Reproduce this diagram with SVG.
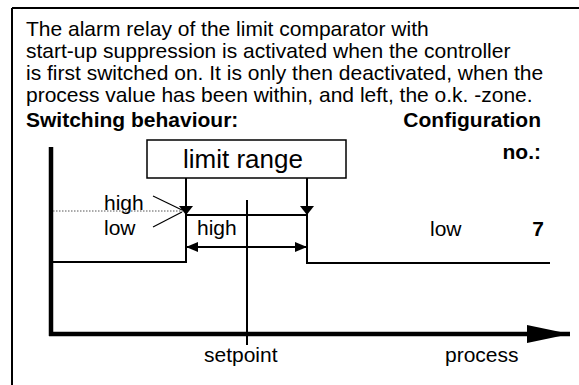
<svg xmlns="http://www.w3.org/2000/svg" width="579" height="385" viewBox="0 0 579 385">
<style>
text{font-family:"Liberation Sans",Arial,sans-serif;font-size:21px;fill:#000}
.b{font-weight:bold}
.thin{stroke:#000;stroke-width:2;fill:none}
.thick{stroke:#000;stroke-width:4.5;fill:none}
</style>
<defs>
<marker id="ah" viewBox="0 0 9 14" refX="9" refY="7" markerWidth="9" markerHeight="14" markerUnits="userSpaceOnUse" orient="auto">
<path d="M0,0 L9,7 L0,14 Z" fill="#000"/>
</marker>
<marker id="ahs" viewBox="0 0 12 10" refX="12" refY="5" markerWidth="12" markerHeight="10" markerUnits="userSpaceOnUse" orient="auto">
<path d="M0,0 L12,5 L0,10 Z" fill="#000"/>
</marker>
<marker id="ahs0" viewBox="0 0 12 10" refX="0" refY="5" markerWidth="12" markerHeight="10" markerUnits="userSpaceOnUse" orient="auto">
<path d="M12,0 L0,5 L12,10 Z" fill="#000"/>
</marker>
<marker id="big" viewBox="0 0 43 18" refX="43" refY="9" markerWidth="43" markerHeight="18" markerUnits="userSpaceOnUse" orient="auto">
<path d="M0,0 L43,9 L0,18 Z" fill="#000"/>
</marker>
</defs>
<g id="frame">
<line x1="12" y1="8" x2="579" y2="8" class="thin"/>
<line x1="12" y1="8" x2="12" y2="385" class="thin"/>
</g>
<g id="description">
<text x="26" y="36">The alarm relay of the limit comparator with</text>
<text x="26" y="58">start-up suppression is activated when the controller</text>
<text x="26" y="80">is first switched on. It is only then deactivated, when the</text>
<text x="26" y="102">process  value has been within, and left, the o.k. -zone.</text>
<text x="26" y="127" class="b">Switching behaviour:</text>
<text x="541" y="127" class="b" text-anchor="end">Configuration</text>
<text x="541" y="159" class="b" text-anchor="end">no.:</text>
</g>
<g id="limit-range">
<rect x="147" y="140" width="199" height="38" fill="#fff" stroke="#000" stroke-width="1.5"/>
<text x="243" y="168" text-anchor="middle" style="font-size:26px">limit range</text>
</g>
<g id="axes">
<line x1="51" y1="147" x2="51" y2="336" class="thick"/>
<line x1="49" y1="334" x2="570" y2="334" class="thick" marker-end="url(#big)"/>
<text x="204" y="362">setpoint</text>
<text x="445" y="362">process</text>
</g>
<g id="labels">
<text x="104" y="210">high</text>
<text x="104" y="235">low</text>
<text x="197" y="235">high</text>
<text x="430" y="236">low</text>
<text x="544" y="236" class="b" text-anchor="end">7</text>
</g>
<g id="connectors">
<line x1="53" y1="211" x2="183" y2="211" stroke="#555" stroke-width="1" stroke-dasharray="1.5,1.5"/>
<line x1="153" y1="196" x2="182" y2="210" stroke="#000" stroke-width="1.2"/>
<line x1="153" y1="227" x2="182" y2="212" stroke="#000" stroke-width="1.2"/>
<line x1="186" y1="178" x2="186" y2="215" class="thin" marker-end="url(#ah)"/>
<line x1="307" y1="178" x2="307" y2="215" class="thin" marker-end="url(#ah)"/>
<polyline points="51,262 186,262 186,215 307,215 307,263 550,263" class="thin"/>
<line x1="186" y1="247" x2="307" y2="247" class="thin" marker-start="url(#ahs0)" marker-end="url(#ahs)"/>
<line x1="247" y1="200" x2="247" y2="345" class="thin"/>
</g>
</svg>
